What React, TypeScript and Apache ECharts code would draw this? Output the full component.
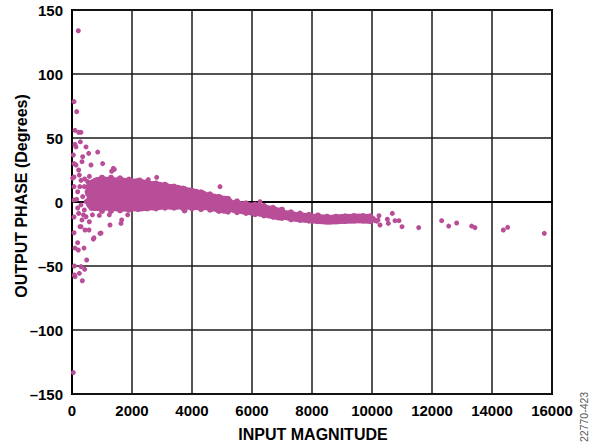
import React, { useEffect, useRef } from "react";
import * as echarts from "echarts";

// Axis setup
const xMin = 0;
const xMax = 16000;
const xStep = 2000;
const yMin = -150;
const yMax = 150;
const yStep = 50;
const xTitle = "INPUT MAGNITUDE";
const yTitle = "OUTPUT PHASE (Degrees)";
const figureId = "22770-423";

// Dense core of the cloud (input magnitude, output phase in degrees)
const coreWide: number[][] = [
  [900, 10.3], [900, 2.3], [1100, 10.5], [1100, 2.5], [1300, 10.3], [1300, 2.3],
  [1500, 10], [1500, 2], [1700, 9.8], [1700, 1.8], [1900, 9.6], [1900, 1.6],
  [2100, 9], [2100, 2], [2300, 8.5], [2300, 2],
];
const coreMid: number[][] = [
  [750, 11], [750, 0],
  [2500, 10], [2500, 0], [2700, 9.4], [2700, 0.4], [2900, 8.8], [2900, 0.8],
  [3100, 8], [3100, 1], [3300, 7], [3300, 1], [3500, 6.4], [3500, 1],
  [3700, 5.4], [3700, 1], [3900, 4.3], [3900, 0.9], [4100, 3.3], [4100, 0.7],
  [4300, 2.3], [4300, 0.3], [4500, 0.5], [4700, -0.3], [4900, -1.3], [5100, -2.2],
];
const coreNarrow: number[][] = [
  [5250, -2.9], [5400, -3.5], [5550, -4.0], [5700, -4.5], [5850, -5.0], [6000, -5.5],
  [6150, -6.0], [6300, -6.5], [6450, -7.2], [6600, -7.9], [6750, -8.6], [6900, -9.3],
];
const coreTail: number[][] = [
  [7000, -9.8], [7100, -10.2], [7200, -10.6], [7300, -11.0], [7400, -11.4], [7500, -11.7],
  [7600, -12.0], [7700, -12.2], [7800, -12.4], [7900, -12.6], [8000, -12.8], [8100, -13.0],
  [8200, -13.2], [8300, -13.4], [8400, -13.6], [8500, -13.8], [8600, -13.8], [8700, -13.7],
  [8800, -13.6], [8900, -13.4], [9000, -13.3], [9100, -13.2], [9200, -13.1], [9300, -13.0],
  [9400, -12.9], [9500, -12.9], [9600, -12.9], [9700, -12.9], [9800, -13.0], [9900, -13.1],
];
// Rough upper and lower rims of the cloud
const rimUpper: number[][] = [
  [1000, 19], [1300, 19], [1600, 18.5], [1900, 17.5], [2200, 16.5], [2500, 15.5],
  [2800, 14.5], [3100, 13.5], [3400, 12], [3700, 10.5], [4000, 9], [4300, 7.5],
  [4600, 6], [4900, 4], [5200, 2.5], [5500, 0.5], [5800, -1], [6100, -2], [6400, -3],
  [6700, -4.5], [7000, -6], [7300, -8], [7600, -9], [7900, -10], [8200, -10.5],
  [8500, -11.5], [8800, -11.5], [9100, -11.2], [9400, -11], [9700, -11], [9950, -11.2],
];
const rimLower: number[][] = [
  [1000, -7], [1300, -7], [1600, -6.5], [1900, -6], [2200, -5.5], [2500, -5],
  [2800, -5], [3100, -4.5], [3400, -4.5], [3700, -4.8], [4000, -5], [4300, -5.5],
  [4600, -6], [4900, -7], [5200, -7.5], [5500, -8], [5800, -8.5], [6100, -9.5],
  [6400, -10.5], [6700, -11.5], [7000, -12.5], [7300, -13.5], [7600, -14], [7900, -14.5],
  [8200, -15], [8500, -15], [8800, -15], [9100, -14.8], [9400, -14.5], [9700, -14.5], [9950, -15],
];
// Scattered individual samples
const scatterNear: number[][] = [
  [1022, 30], [1378, 26.3], [1322, 24], [633, 28.9], [2267, 17.2], [2544, 17.5],
  [2822, 19.3], [4933, 12], [3767, -6.8], [6267, 0.2], [911, -10.5], [1244, -10],
  [1633, -16.7], [1656, -14], [1856, -10], [3744, -7], [1267, -18], [967, -24.3],
  [933, -24.5], [733, -28], [711, -29], [567, -21.9], [433, -21.9], [300, -19.3],
  [267, -19.3], [856, 39], [1411, 25.5],
  [620, 12], [600, 4], [640, -5], [580, 20], [680, -10], [560, -2], [520, 6],
  [420, 18], [380, -10], [260, 12],
];
const scatterLow: number[][] = [
  [22, 18.7], [244, 21], [300, 16.9], [411, 12], [189, 8], [356, 4.2], [156, 2.1],
  [467, 0.3], [300, -2.3], [411, -6.2], [222, -8.9], [467, -11.5], [333, -14],
  [578, -15.4], [189, -4.7], [500, 8], [522, 15.9], [222, 25], [133, 28.9], [333, 31.5],
  [44, 36.7], [356, 35.4], [556, 38], [133, 43], [467, 43], [278, 47], [222, 54.4],
  [300, 54.4], [67, 78.4], [156, 70.6], [211, 133.8], [189, -31.8], [400, -36],
  [100, -36], [211, -37.5], [489, -45.3], [300, -50.5], [422, -52.6], [244, -55.7],
  [100, -58.3], [344, -61.5], [44, -133.3], [67, 30], [67, 19.5], [67, 12], [67, 1.5],
  [67, -11.7], [67, -24], [78, -50], [78, -57], [100, 45], [100, 56],
];
const scatterHigh: number[][] = [
  [10050, -13], [10100, -14.5], [10200, -14], [10156, -15], [10233, -10.7], [10267, -18],
  [10511, -13.5], [10544, -16.7], [10678, -8.9], [10767, -14.6], [10900, -14.6],
  [11000, -19.3], [11556, -20], [12322, -14.6], [12556, -18.8], [12822, -16.4],
  [13322, -18.8], [13433, -20], [14378, -21.9], [14522, -19.8], [15744, -24.5],
];

const DOT = "#b84e98";
const FONT = '"Liberation Sans", Arial, Helvetica, sans-serif';

function dots(name: string, data: number[][], size: number) {
  return {
    name,
    type: "scatter",
    data,
    symbol: "circle",
    symbolSize: size,
    itemStyle: { color: DOT, opacity: 1 },
    emphasis: { disabled: true },
    silent: true,
  };
}

export default function App() {
  const ref = useRef<HTMLDivElement>(null);
  useEffect(() => {
    if (!ref.current) return;
    const chart = echarts.init(ref.current, undefined, { renderer: "svg" });
    chart.setOption({
      animation: false,
      backgroundColor: "#fff",
      grid: {
        left: 72,
        right: 40,
        top: 10,
        bottom: 50,
        show: true,
        borderColor: "#000",
        borderWidth: 2,
        backgroundColor: "transparent",
      },
      xAxis: {
        type: "value",
        min: xMin,
        max: xMax,
        interval: xStep,
        axisLine: { show: true, lineStyle: { color: "#000", width: 2 } },
        axisTick: { show: false },
        splitLine: { show: true, lineStyle: { color: "#1a1a1a", width: 1.5 } },
        axisLabel: {
          margin: 9,
          color: "#000",
          fontFamily: FONT,
          fontWeight: "bold",
          fontSize: 15,
          formatter: (v: number) => String(v),
        },
      },
      yAxis: {
        type: "value",
        min: yMin,
        max: yMax,
        interval: yStep,
        axisLine: { show: true, lineStyle: { color: "#000", width: 2 } },
        axisTick: { show: false },
        splitLine: { show: true, lineStyle: { color: "#1a1a1a", width: 1.5 } },
        axisLabel: {
          margin: 9,
          color: "#000",
          fontFamily: FONT,
          fontWeight: "bold",
          fontSize: 15,
          formatter: (v: number) => String(v).replace("-", "\u2013"),
        },
      },
      graphic: [
        {
          type: "text",
          x: 21,
          y: 196,
          rotation: Math.PI / 2,
          style: {
            text: yTitle,
            font: `bold 16px ${FONT}`,
            fill: "#000",
            textAlign: "center",
            textVerticalAlign: "middle",
            align: "center",
            verticalAlign: "middle",
          },
        },
        {
          type: "text",
          x: 313,
          y: 434,
          style: {
            text: xTitle,
            font: `bold 16px ${FONT}`,
            fill: "#000",
            textAlign: "center",
            textVerticalAlign: "middle",
            align: "center",
            verticalAlign: "middle",
          },
        },
        {
          type: "text",
          x: 584,
          y: 442,
          rotation: Math.PI / 2,
          style: {
            text: figureId,
            font: `10.5px ${FONT}`,
            fill: "#555",
            textAlign: "left",
            textVerticalAlign: "middle",
            align: "left",
            verticalAlign: "middle",
          },
        },
      ],
      series: [
        dots("coreWide", coreWide, 24),
        dots("coreMid", coreMid, 18),
        dots("coreNarrow", coreNarrow, 13),
        dots("coreTail", coreTail, 10),
        dots("rimUpper", rimUpper, 6),
        dots("rimLower", rimLower, 6),
        dots("scatterNear", scatterNear, 5),
        dots("scatterLow", scatterLow, 5),
        dots("scatterHigh", scatterHigh, 5),
      ],
    });
    return () => chart.dispose();
  }, []);
  return <div ref={ref} style={{ width: 592, height: 444, position: "absolute", left: 0, top: 0 }} />;
}
